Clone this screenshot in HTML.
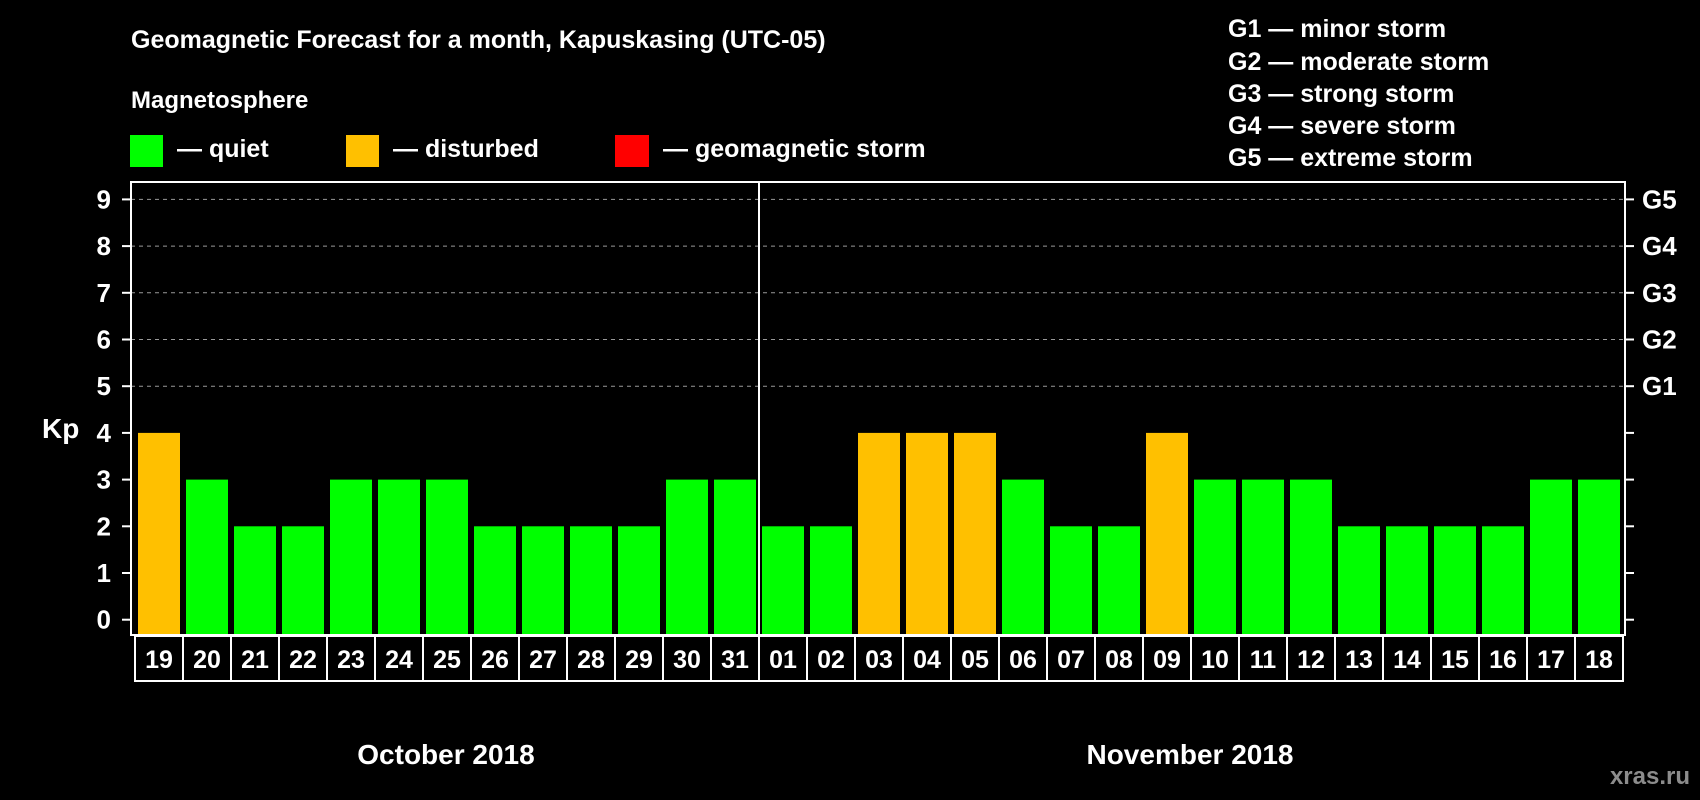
<!DOCTYPE html>
<html><head><meta charset="utf-8"><style>
html,body{margin:0;padding:0;background:#000;}
svg{display:block;font-family:"Liberation Sans",Arial,sans-serif;font-weight:bold;}
</style></head><body>
<svg id="chart" width="1700" height="800" viewBox="0 0 1700 800">
<rect width="1700" height="800" fill="#000"/>
<text x="131" y="48" font-size="25" fill="#fff">Geomagnetic Forecast for a month, Kapuskasing (UTC-05)</text>
<text x="131" y="108" font-size="24" fill="#fff">Magnetosphere</text>
<g><rect x="130" y="135" width="33" height="32" fill="#00ff00"/><text x="177" y="157" font-size="25" fill="#fff">— quiet</text></g>
<g><rect x="346" y="135" width="33" height="32" fill="#ffc000"/><text x="393" y="157" font-size="25" fill="#fff">— disturbed</text></g>
<g><rect x="615" y="135" width="34" height="32" fill="#ff0000"/><text x="663" y="157" font-size="25" fill="#fff">— geomagnetic storm</text></g>
<g font-size="25" fill="#fff">
<text x="1228" y="37">G1 — minor storm</text>
<text x="1228" y="70">G2 — moderate storm</text>
<text x="1228" y="102">G3 — strong storm</text>
<text x="1228" y="134">G4 — severe storm</text>
<text x="1228" y="166">G5 — extreme storm</text>
</g>
<text x="42" y="438" font-size="28" fill="#fff">Kp</text>
<g id="plot"></g>
<text x="446" y="764" font-size="28" fill="#fff" text-anchor="middle">October 2018</text>
<text x="1190" y="764" font-size="28" fill="#fff" text-anchor="middle">November 2018</text>
<text x="1690" y="784" font-size="24" fill="#8c8c8c" text-anchor="end">xras.ru</text>
</svg>
<script>
const days = ["19","20","21","22","23","24","25","26","27","28","29","30","31","01","02","03","04","05","06","07","08","09","10","11","12","13","14","15","16","17","18"];
const kpValues = [4,3,2,2,3,3,3,2,2,2,2,3,3,2,2,4,4,4,3,2,2,4,3,3,3,2,2,2,2,3,3];
const yTicks = [0,1,2,3,4,5,6,7,8,9];
const gLabels = ["G1","G2","G3","G4","G5"];
const gLevels = [5,6,7,8,9];

(function(){
const NS="http://www.w3.org/2000/svg";
const plot=document.getElementById('plot');
const left=131,right=1625,plotTop=182,bottom=635;
const y0=619.7,perUnit=46.7;
const yScale=v=>y0-v*perUnit;
const pitch=48,barW=42,firstX=138;
const xScale=i=>firstX+i*pitch;
function mk(tag,attrs){const e=document.createElementNS(NS,tag);for(const k in attrs)e.setAttribute(k,attrs[k]);plot.appendChild(e);return e;}

yTicks.forEach(t=>{
  const y=yScale(t);
  if(t>=5){const g=mk('line',{x1:left,x2:right,y1:y,y2:y,stroke:'#999','stroke-width':1,'stroke-dasharray':'4,4'});
  
  }
  const tl=mk('line',{x1:left-9,x2:left,y1:y,y2:y,stroke:'#fff','stroke-width':2});
  
  
  const tr=mk('line',{x1:right,x2:right+9,y1:y,y2:y,stroke:'#fff','stroke-width':2});
  
  
  const lb=mk('text',{x:111,y:y+9,'font-size':26,fill:'#fff','text-anchor':'end'});
  lb.textContent=t;
  
  
});
gLabels.forEach((g,i)=>{
  const lb=mk('text',{x:1642,y:yScale(gLevels[i])+9,'font-size':26,fill:'#fff'});
  lb.textContent=g;
  
  
});
kpValues.forEach((v,i)=>{
  const col=v>=5?'#ff0000':(v>=4?'#ffc000':'#00ff00');
  const b=mk('rect',{x:xScale(i),y:yScale(v),width:barW,height:bottom-yScale(v),fill:col});
  
  
  const c=mk('rect',{x:xScale(i)-3,y:bottom+1,width:pitch,height:45,fill:'none',stroke:'#fff','stroke-width':2});
  
  
  const t=mk('text',{x:xScale(i)+barW/2,y:bottom+33,'font-size':25,fill:'#fff','text-anchor':'middle'});
  t.textContent=days[i];
  
  
});
const frame=mk('rect',{x:left,y:plotTop,width:right-left,height:bottom-plotTop,fill:'none',stroke:'#fff','stroke-width':2});


const sepIdx=days.indexOf("01");
const sep=mk('line',{x1:xScale(sepIdx)-3,x2:xScale(sepIdx)-3,y1:plotTop,y2:bottom,stroke:'#fff','stroke-width':2});


})();
</script>
</body></html>
